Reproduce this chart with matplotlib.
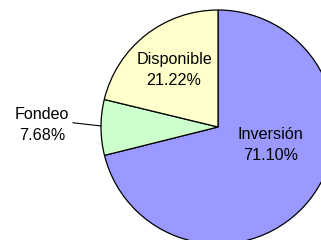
import matplotlib
matplotlib.use("Agg")
import matplotlib.pyplot as plt

# slice data (clockwise from 12 o'clock)
labels = ["Inversión", "Fondeo", "Disponible"]
values = [71.10, 7.68, 21.22]
colors = ["#9999ff", "#ccffcc", "#ffffcc"]

plt.rcParams['font.family'] = ['Liberation Sans', 'DejaVu Sans']

fig = plt.figure(figsize=(3.21, 2.40), dpi=100)
ax = fig.add_axes([0, 0, 1, 1])
ax.axis('off')

ax.pie(values, colors=colors, startangle=90, counterclock=False,
       radius=1.0, center=(0, 0),
       wedgeprops=dict(edgecolor='black', linewidth=0.9))

# view window: pie centre at about (218,127) px, radius 117 px
ax.set_xlim(-218 / 117, (321 - 218) / 117)
ax.set_ylim(-(240 - 127) / 117, 127 / 117)
ax.set_aspect('auto')

fs = 11.6
ls = 1.5
texts = [f"{l}\n{v:.2f}%" for l, v in zip(labels, values)]
ax.text(0.45, -0.15, texts[0], ha='center', va='center', fontsize=fs, linespacing=ls)
ax.text(-0.375, 0.49, texts[2], ha='center', va='center', fontsize=fs, linespacing=ls)
ax.text(-1.505, 0.02, texts[1], ha='center', va='center', fontsize=fs, linespacing=ls)

# leader line for Fondeo
ax.plot([-1.239, -1.0], [0.036, 0.009], color='black', linewidth=0.8)

fig.savefig("out.png", dpi=100)
